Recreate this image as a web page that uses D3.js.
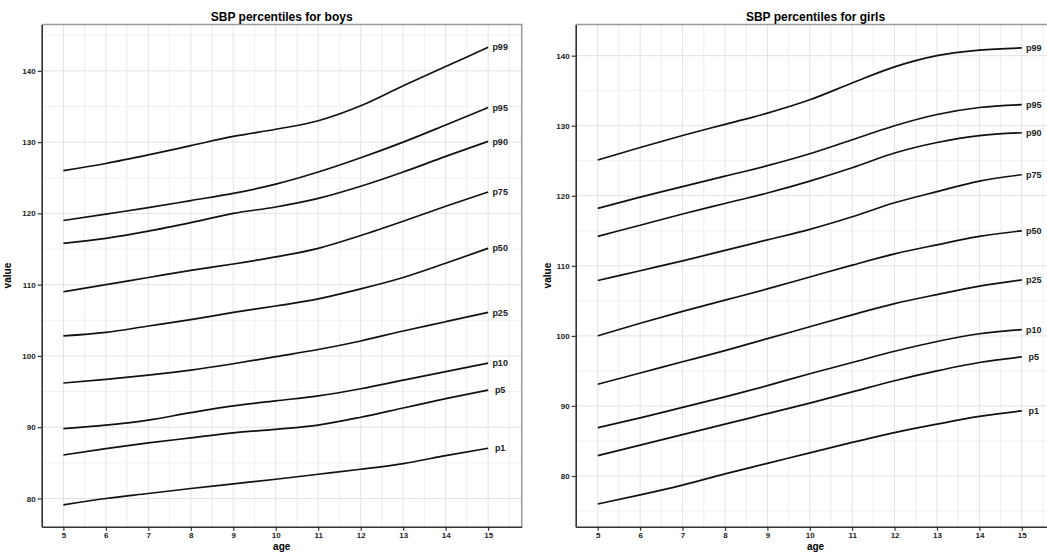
<!DOCTYPE html>
<html>
<head>
<meta charset="utf-8">
<script src="https://cdn.jsdelivr.net/npm/d3@7"></script>
<style>
  html, body { margin: 0; padding: 0; background: #fff; overflow: hidden; }
  svg { display: block; font-family: "Liberation Sans", Arial, sans-serif; }
</style>
</head>
<body>
<div id="chart"></div>
<script>
// ages on the x axis
var ages = [5, 6, 7, 8, 9, 10, 11, 12, 13, 14, 15];
var percentiles = ["p99", "p95", "p90", "p75", "p50", "p25", "p10", "p5", "p1"];

// boys SBP percentile curves
var boysP99 = [126, 127, 128.2, 129.5, 130.8, 131.8, 133, 135.1, 137.9, 140.6, 143.3];
var boysP95 = [119, 119.9, 120.8, 121.8, 122.8, 124.1, 125.8, 127.8, 130, 132.4, 134.85];
var boysP90 = [115.8, 116.5, 117.5, 118.7, 120, 120.9, 122.1, 123.8, 125.8, 128, 130.1];
var boysP75 = [109, 110, 111, 112, 112.9, 113.9, 115.1, 116.9, 118.9, 121, 123];
var boysP50 = [102.8, 103.3, 104.2, 105.1, 106.1, 107, 108, 109.4, 111, 113, 115.1];
var boysP25 = [96.2, 96.7, 97.3, 98, 98.9, 99.9, 100.9, 102.1, 103.5, 104.8, 106.1];
var boysP10 = [89.8, 90.3, 91, 92.05, 93, 93.7, 94.4, 95.4, 96.6, 97.8, 99];
var boysP5 = [86.1, 87, 87.8, 88.5, 89.2, 89.7, 90.3, 91.4, 92.7, 94, 95.2];
var boysP1 = [79.1, 80, 80.7, 81.4, 82.05, 82.7, 83.4, 84.1, 84.9, 86, 87.05];

// girls SBP percentile curves
var girlsP99 = [125.1, 126.9, 128.6, 130.2, 131.8, 133.7, 136.1, 138.4, 140, 140.8, 141.1];
var girlsP95 = [118.2, 119.8, 121.3, 122.8, 124.3, 126, 128, 130, 131.6, 132.6, 133];
var girlsP90 = [114.2, 115.8, 117.4, 118.9, 120.4, 122.1, 124, 126.1, 127.6, 128.6, 129];
var girlsP75 = [107.9, 109.3, 110.7, 112.2, 113.7, 115.2, 117, 119, 120.6, 122.1, 123];
var girlsP50 = [100, 101.8, 103.5, 105.1, 106.7, 108.4, 110.1, 111.7, 113, 114.2, 115];
var girlsP25 = [93.1, 94.7, 96.3, 97.9, 99.6, 101.3, 103, 104.6, 105.9, 107.1, 108];
var girlsP10 = [86.9, 88.3, 89.8, 91.3, 92.9, 94.6, 96.2, 97.8, 99.2, 100.3, 100.9];
var girlsP5 = [82.9, 84.4, 85.9, 87.4, 88.9, 90.4, 92, 93.6, 95, 96.2, 97];
var girlsP1 = [76, 77.3, 78.7, 80.3, 81.8, 83.3, 84.8, 86.2, 87.4, 88.5, 89.3];

var boysSeries = [boysP99, boysP95, boysP90, boysP75, boysP50, boysP25, boysP10, boysP5, boysP1];
var girlsSeries = [girlsP99, girlsP95, girlsP90, girlsP75, girlsP50, girlsP25, girlsP10, girlsP5, girlsP1];

var xTicks = [5, 6, 7, 8, 9, 10, 11, 12, 13, 14, 15];
var boysYTicks = [80, 90, 100, 110, 120, 130, 140];
var girlsYTicks = [80, 90, 100, 110, 120, 130, 140];

var width = 1047, height = 552;
var svg = d3.select("#chart").append("svg")
  .attr("width", width)
  .attr("height", height);

function drawPanel(opts) {
  var x = d3.scaleLinear().domain(opts.xDomain).range([opts.left, opts.right]);
  var y = d3.scaleLinear().domain(opts.yDomain).range([opts.bottom, opts.top]);
  var g = svg.append("g");

  // minor grid
  var xMinor = d3.range(opts.xDomain[0], opts.xDomain[1], 0.5).map(function (v) { return Math.floor(v) + 0.5; })
    .filter(function (v) { return v > opts.xDomain[0] && v < opts.xDomain[1]; });
  var yMinor = opts.yTicks.map(function (v) { return v + 5; }).concat([opts.yTicks[0] - 5])
    .filter(function (v) { return v > opts.yDomain[0] && v < opts.yDomain[1]; });
  g.selectAll(".xminor").data(xMinor).enter().append("line")
    .attr("x1", x).attr("x2", x).attr("y1", opts.top).attr("y2", opts.bottom)
    .style("stroke", "#f1f1f1").style("stroke-width", 1);
  g.selectAll(".yminor").data(yMinor).enter().append("line")
    .attr("x1", opts.left).attr("x2", opts.right).attr("y1", y).attr("y2", y)
    .style("stroke", "#f1f1f1").style("stroke-width", 1);

  // major grid
  g.selectAll(".xgrid").data(xTicks).enter().append("line")
    .attr("x1", x).attr("x2", x).attr("y1", opts.top).attr("y2", opts.bottom)
    .style("stroke", "#e3e3e3").style("stroke-width", 1);
  g.selectAll(".ygrid").data(opts.yTicks.filter(function (v) { return v > opts.yDomain[0] && v < opts.yDomain[1]; }))
    .enter().append("line")
    .attr("x1", opts.left).attr("x2", opts.right).attr("y1", y).attr("y2", y)
    .style("stroke", "#e3e3e3").style("stroke-width", 1);

  // top and right border
  g.append("path")
    .attr("d", "M" + opts.left + "," + opts.top + "H" + opts.right + "V" + opts.bottom)
    .style("fill", "none").style("stroke", "#9a9a9a").style("stroke-width", 1.5);

  var line = d3.line()
    .x(function (d, i) { return x(ages[i]); })
    .y(function (d) { return y(d); })
    .curve(d3.curveMonotoneX);

  g.selectAll(".curve").data(opts.series).enter().append("path")
    .attr("d", line)
    .style("fill", "none")
    .style("stroke", "#111")
    .style("stroke-width", 1.7);

  g.selectAll(".lbl").data(opts.series).enter().append("text")
    .attr("x", x(ages[ages.length - 1]) + 12)
    .attr("y", function (d) { return y(d[d.length - 1]); })
    .attr("dy", "0.35em")
    .attr("text-anchor", "middle")
    .style("font-size", "9px")
    .style("font-weight", "bold")
    .style("fill", "#222")
    .text(function (d, i) { return percentiles[i]; });

  // axes
  var xAxis = d3.axisBottom(x).tickValues(xTicks).tickSize(4).tickSizeOuter(0).tickPadding(2);
  var yAxis = d3.axisLeft(y).tickValues(opts.yTicks).tickSize(4).tickSizeOuter(0).tickPadding(2);
  var gx = g.append("g").attr("transform", "translate(0," + opts.bottom + ")").call(xAxis);
  var gy = g.append("g").attr("transform", "translate(" + opts.left + ",0)").call(yAxis);
  [gx, gy].forEach(function (ax) {
    ax.select(".domain").style("stroke", "#333").style("stroke-width", 1.6);
    ax.selectAll(".tick line").style("stroke", "#333").style("stroke-width", 1.2);
    ax.selectAll(".tick text")
      .style("font-family", "'Liberation Sans', Arial, sans-serif")
      .style("font-size", "8px").style("font-weight", "bold").style("fill", "#222");
  });

  g.append("text")
    .attr("x", (opts.left + opts.right) / 2)
    .attr("y", opts.top - 4)
    .attr("text-anchor", "middle")
    .style("font-size", "12px").style("font-weight", "bold")
    .text(opts.title);

  g.append("text")
    .attr("x", (opts.left + opts.right) / 2)
    .attr("y", 550)
    .attr("text-anchor", "middle")
    .style("font-size", "10px").style("font-weight", "bold")
    .text("age");

  g.append("text")
    .attr("transform", "translate(" + opts.yLabelX + "," + ((opts.top + opts.bottom) / 2) + ") rotate(-90)")
    .attr("text-anchor", "middle")
    .style("font-size", "10px").style("font-weight", "bold")
    .text("value");
}

drawPanel({
  title: "SBP percentiles for boys",
  series: boysSeries,
  yTicks: boysYTicks,
  xDomain: [4.49, 15.79], yDomain: [76.04, 146.5],
  left: 41.7, right: 521.7, top: 24.5, bottom: 526.7,
  yLabelX: 11
});

drawPanel({
  title: "SBP percentiles for girls",
  series: girlsSeries,
  yTicks: girlsYTicks,
  xDomain: [4.48, 15.79], yDomain: [72.76, 144.45],
  left: 575.7, right: 1055.3, top: 24.5, bottom: 526.7,
  yLabelX: 551
});
</script>
</body>
</html>
